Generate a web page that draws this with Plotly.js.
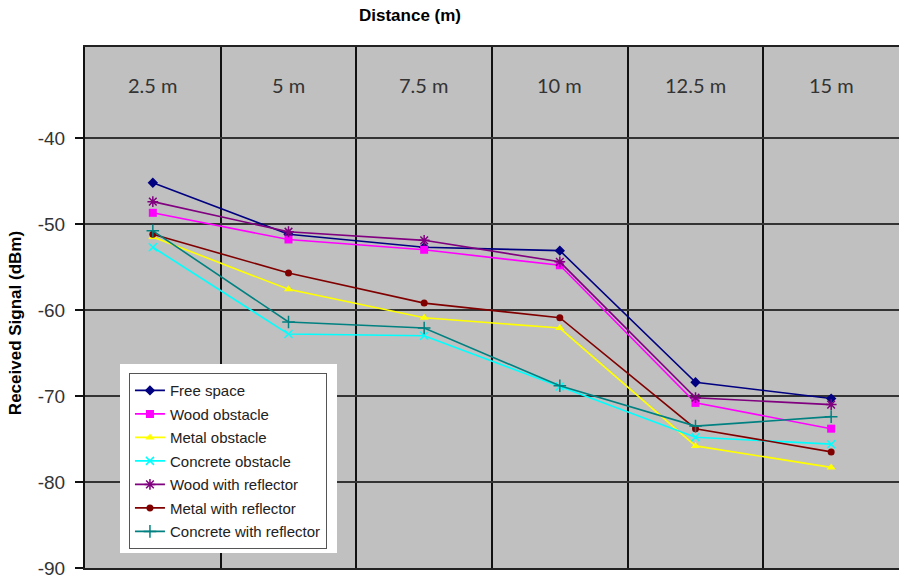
<!DOCTYPE html>
<html>
<head>
<meta charset="utf-8">
<script src="https://cdn.plot.ly/plotly-3.0.1.min.js"></script>
<style>html,body{margin:0;padding:0;background:#fff;}#chart{width:902px;height:578px;}</style>
</head>
<body>
<div id="chart"></div>
<script>
const categories = ["2.5 m", "5 m", "7.5 m", "10 m", "12.5 m", "15 m"];
const seriesNames = ["Free space", "Wood obstacle", "Metal obstacle", "Concrete obstacle", "Wood with reflector", "Metal with reflector", "Concrete with reflector"];
const freeSpace = [-45.2, -51.2, -52.7, -53.1, -68.4, -70.3];
const woodObstacle = [-48.7, -51.8, -53.0, -54.8, -70.8, -73.8];
const metalObstacle = [-51.5, -57.6, -60.9, -62.1, -75.8, -78.3];
const concreteObstacle = [-52.7, -62.8, -63.0, -68.9, -74.8, -75.6];
const woodReflector = [-47.4, -50.9, -51.9, -54.4, -70.2, -71.0];
const metalReflector = [-51.2, -55.7, -59.2, -60.9, -73.8, -76.5];
const concreteReflector = [-50.8, -61.4, -62.1, -68.8, -73.5, -72.4];
const yTicks = [-90, -80, -70, -60, -50, -40];

const allSeries = [freeSpace, woodObstacle, metalObstacle, concreteObstacle, woodReflector, metalReflector, concreteReflector];
const colors = ["#000080", "#FF00FF", "#FFFF00", "#00FFFF", "#800080", "#800000", "#008080"];
const symbols = ["diamond", "square", "triangle-up", "x-thin-open", "asterisk-open", "circle", "cross-thin-open"];
const sizes = [8, 8, 8, 8, 9, 7, 9];

const traces = allSeries.map((vals, i) => ({
  type: "scatter",
  mode: "lines+markers",
  name: seriesNames[i],
  legendgroup: "g" + i,
  x: categories,
  y: vals,
  line: {color: colors[i], width: 1.6},
  marker: {symbol: symbols[i], size: sizes[i], color: colors[i], line: {color: colors[i], width: symbols[i].includes("open") ? 1.5 : 0}}
}));

const annotations = categories.map(c => ({
  x: c, xref: "x", y: 0.927, yref: "paper", text: c, showarrow: false, xanchor: "center", yanchor: "middle",
  font: {family: "Lato, 'Open Sans', sans-serif", size: 20, color: "#333333"}
}));
annotations.push({
  x: 0.399, xref: "paper", y: 1.061, yref: "paper", text: "<b>Distance (m)</b>", showarrow: false,
  xanchor: "center", yanchor: "middle",
  font: {family: "'Liberation Sans', Arial, sans-serif", size: 17, color: "#000"}
});
annotations.push({
  x: -0.086, xref: "paper", y: 0.47, yref: "paper", text: "<b>Received Signal (dBm)</b>", showarrow: false, textangle: -90,
  xanchor: "center", yanchor: "middle",
  font: {family: "'Liberation Sans', Arial, sans-serif", size: 17, color: "#000"}
});

const layout = {
  width: 902, height: 578,
  margin: {l: 85, r: 3, t: 47, b: 10},
  paper_bgcolor: "#ffffff",
  plot_bgcolor: "#C0C0C0",
  showlegend: true,
  legend: {
    x: 0.054, y: 0.374, xanchor: "left", yanchor: "top",
    bgcolor: "#ffffff", bordercolor: "#555555", borderwidth: 1,
    font: {family: "'Liberation Sans', Arial, sans-serif", size: 15, color: "#222"},
    tracegroupgap: 1
  },
  xaxis: {
    type: "category", categoryarray: categories, side: "top", range: [-0.5, 5.5],
    tickson: "boundaries", showgrid: true, gridcolor: "#111111", gridwidth: 2,
    showticklabels: false, ticks: "", showline: true, mirror: true, linecolor: "#222", linewidth: 2,
    zeroline: false, fixedrange: true
  },
  yaxis: {
    range: [-90, -29.42], tickvals: yTicks, ticktext: yTicks.map(String),
    showgrid: true, gridcolor: "#333333", gridwidth: 2,
    ticks: "outside", ticklen: 8, tickcolor: "#111", tickwidth: 2,
    showline: true, linecolor: "#111", linewidth: 2, zeroline: false,
    tickfont: {family: "'Liberation Sans', Arial, sans-serif", size: 19, color: "#333"},
    ticklabelstandoff: 6, ticklabeloverflow: "allow"
  },
  shapes: [{
    type: "rect", xref: "paper", yref: "paper",
    x0: 0.043, x1: 0.3096, y0: 0.0288, y1: 0.3916,
    fillcolor: "#ffffff", line: {width: 0}, layer: "above"
  }],
  annotations: annotations
};

Plotly.newPlot("chart", traces, layout, {displayModeBar: false, staticPlot: true});
</script>
</body>
</html>
